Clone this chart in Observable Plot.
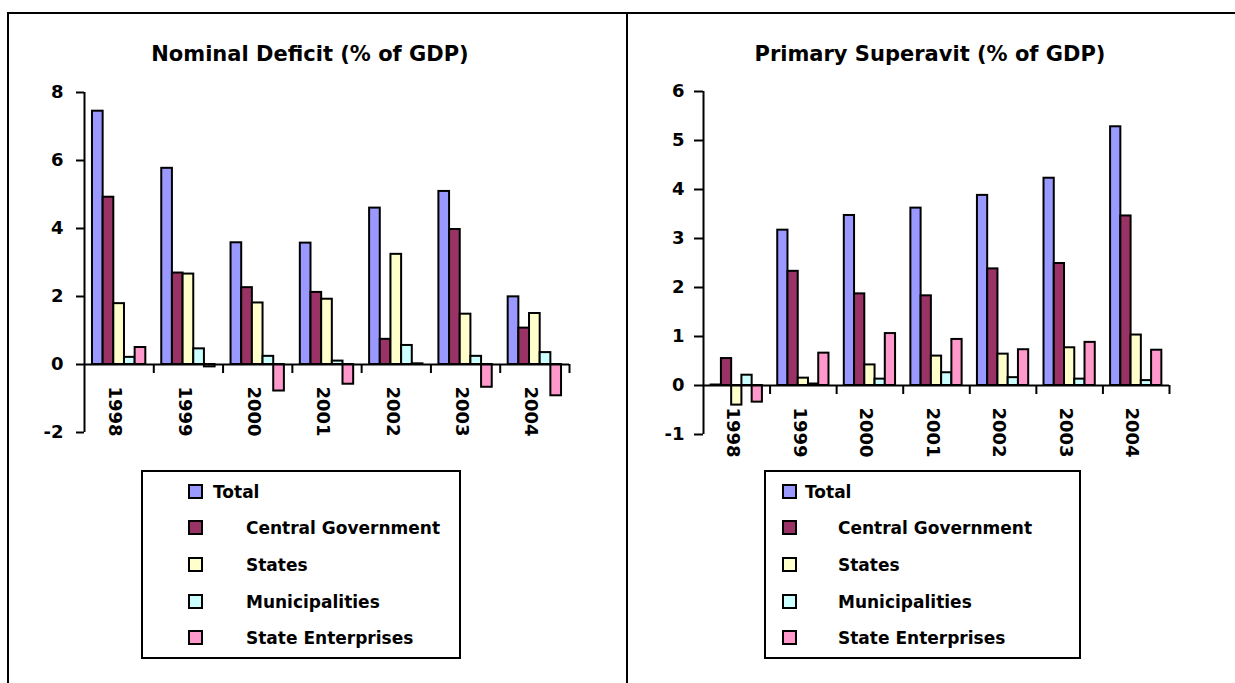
<!DOCTYPE html>
<html>
<head>
<meta charset="utf-8">
<script src="https://cdn.jsdelivr.net/npm/d3@7"></script>
<script src="https://cdn.jsdelivr.net/npm/@observablehq/plot@0.6"></script>
<style>
  body { margin: 0; background: #fff; font-family: "DejaVu Sans", sans-serif; }
  #page { position: relative; width: 1235px; height: 683px; overflow: hidden; background: #fff; }
  .rule { position: absolute; background: #000; z-index: 5; }
  .title { position: absolute; top: 41px; width: 500px; font-weight: bold; font-size: 21px; text-align: center; line-height: 26px; }
  .chart { position: absolute; top: 0; }
  .legend { position: absolute; border: 2px solid #000; box-sizing: border-box; }
  .sw { position: absolute; width: 15px; height: 15px; border: 2px solid #000; box-sizing: border-box; }
  .lab { position: absolute; font-weight: bold; font-size: 17px; line-height: 20px; white-space: nowrap; }
</style>
</head>
<body>
<div id="page">
  <div class="rule" style="left:7px;top:12px;width:1228px;height:2px"></div>
  <div class="rule" style="left:7px;top:12px;width:2px;height:671px"></div>
  <div class="rule" style="left:626px;top:12px;width:2px;height:671px"></div>
  <div class="title" style="left:60px">Nominal Deficit (% of GDP)</div>
  <div class="title" style="left:680px">Primary Superavit (% of GDP)</div>
  <div id="left" class="chart" style="left:0"></div>
  <div id="right" class="chart" style="left:627px"></div>
  <div id="legendLeft" class="legend" style="left:141px;top:470px;width:320px;height:189px"></div>
  <div id="legendRight" class="legend" style="left:764px;top:470px;width:317px;height:189px"></div>
</div>
<script>
// Years and series
const years = ["1998", "1999", "2000", "2001", "2002", "2003", "2004"];
const seriesNames = ["Total", "Central Government", "States", "Municipalities", "State Enterprises"];
const seriesColors = ["#9999FF", "#993366", "#FFFFCC", "#CCFFFF", "#FF99CC"];

// Nominal deficit, % of GDP
const nominalTotal       = [7.45, 5.77, 3.58, 3.57, 4.60, 5.09, 1.99];
const nominalCentral     = [4.92, 2.69, 2.26, 2.12, 0.74, 3.97, 1.07];
const nominalStates      = [1.79, 2.66, 1.81, 1.92, 3.24, 1.48, 1.50];
const nominalMunicipal   = [0.21, 0.46, 0.24, 0.10, 0.56, 0.24, 0.35];
const nominalEnterprises = [0.50, -0.07, -0.78, -0.58, 0.02, -0.67, -0.92];

// Primary surplus, % of GDP
const primaryTotal       = [0.01, 3.17, 3.47, 3.62, 3.88, 4.23, 5.28];
const primaryCentral     = [0.55, 2.33, 1.87, 1.83, 2.38, 2.49, 3.46];
const primaryStates      = [-0.40, 0.15, 0.42, 0.60, 0.64, 0.77, 1.03];
const primaryMunicipal   = [0.21, 0.03, 0.13, 0.26, 0.16, 0.13, 0.10];
const primaryEnterprises = [-0.34, 0.66, 1.06, 0.94, 0.73, 0.88, 0.72];

// Value-axis ticks
const nominalTicks = [-2, 0, 2, 4, 6, 8];
const primaryTicks = [-1, 0, 1, 2, 3, 4, 5, 6];

// Long-format rows: one per (year, series)
function toRows(seriesValues) {
  return years.flatMap((year, i) =>
    seriesValues.map((values, j) => ({year, i, j, name: seriesNames[j], value: values[i]}))
  );
}

// Each year occupies one unit of x; the five bars of a group sit side by side in its middle
const groupPad = 0.115;
const barStep = (1 - 2 * groupPad) / seriesNames.length;
const barX1 = d => d.i + groupPad + d.j * barStep;
const barX2 = d => d.i + groupPad + (d.j + 1) * barStep;

function groupedBars(rows, opts) {
  return Plot.plot({
    width: opts.width,
    height: 460,
    marginLeft: opts.marginLeft,
    marginRight: opts.marginRight,
    marginTop: opts.marginTop,
    marginBottom: opts.marginBottom,
    style: {fontFamily: "DejaVu Sans", fontWeight: "bold", fontSize: "18px", color: "#000", background: "transparent"},
    x: {domain: [0, years.length], axis: null},
    y: {domain: opts.domain},
    color: {domain: seriesNames, range: seriesColors},
    marks: [
      Plot.axisY({ticks: opts.ticks, tickSize: opts.tickSize, tickPadding: opts.tickPadding,
                  tickFormat: d => String(d), strokeWidth: 2, label: null}),
      Plot.rectY(rows, {x1: barX1, x2: barX2, y1: 0, y2: "value", fill: "name",
                        stroke: "#000", strokeWidth: 2}),
      Plot.ruleY([0], {stroke: "#000", strokeWidth: 2}),
      Plot.ruleX([0], {stroke: "#000", strokeWidth: 2}),
      // category tick marks between year groups, hanging below the zero line
      Plot.ruleX(d3.range(1, years.length + 1), {y1: 0, y2: 0, insetTop: 0, insetBottom: -9,
                                                 stroke: "#000", strokeWidth: 2}),
      Plot.text(years, {x: (d, i) => i + 0.5, y: 0, text: d => d, rotate: 90,
                        textAnchor: "start", dy: 22, dx: -4, fontSize: 18, fontWeight: "bold"})
    ]
  });
}

document.getElementById("left").append(groupedBars(
  toRows([nominalTotal, nominalCentral, nominalStates, nominalMunicipal, nominalEnterprises]),
  {width: 627, marginLeft: 84, marginRight: 58, marginTop: 92, marginBottom: 28,
   domain: [-2, 8], ticks: nominalTicks, tickSize: 8, tickPadding: 13}
));

document.getElementById("right").append(groupedBars(
  toRows([primaryTotal, primaryCentral, primaryStates, primaryMunicipal, primaryEnterprises]),
  {width: 608, marginLeft: 76, marginRight: 66, marginTop: 91, marginBottom: 26,
   domain: [-1, 6], ticks: primaryTicks, tickSize: 9, tickPadding: 10}
));

// Legends: swatch + label per series
function buildLegend(el, swatchX, totalX, labelX) {
  const rowY = [20, 56, 93, 130, 166];
  seriesNames.forEach((name, j) => {
    const sw = document.createElement("div");
    sw.className = "sw";
    sw.style.left = swatchX + "px";
    sw.style.top = (rowY[j] - 8) + "px";
    sw.style.background = seriesColors[j];
    el.append(sw);
    const lab = document.createElement("div");
    lab.className = "lab";
    lab.textContent = name;
    lab.style.left = (j === 0 ? totalX : labelX) + "px";
    lab.style.top = (rowY[j] - 10) + "px";
    el.append(lab);
  });
}
buildLegend(document.getElementById("legendLeft"), 45, 70, 103);
buildLegend(document.getElementById("legendRight"), 16, 39, 72);
</script>
</body>
</html>
